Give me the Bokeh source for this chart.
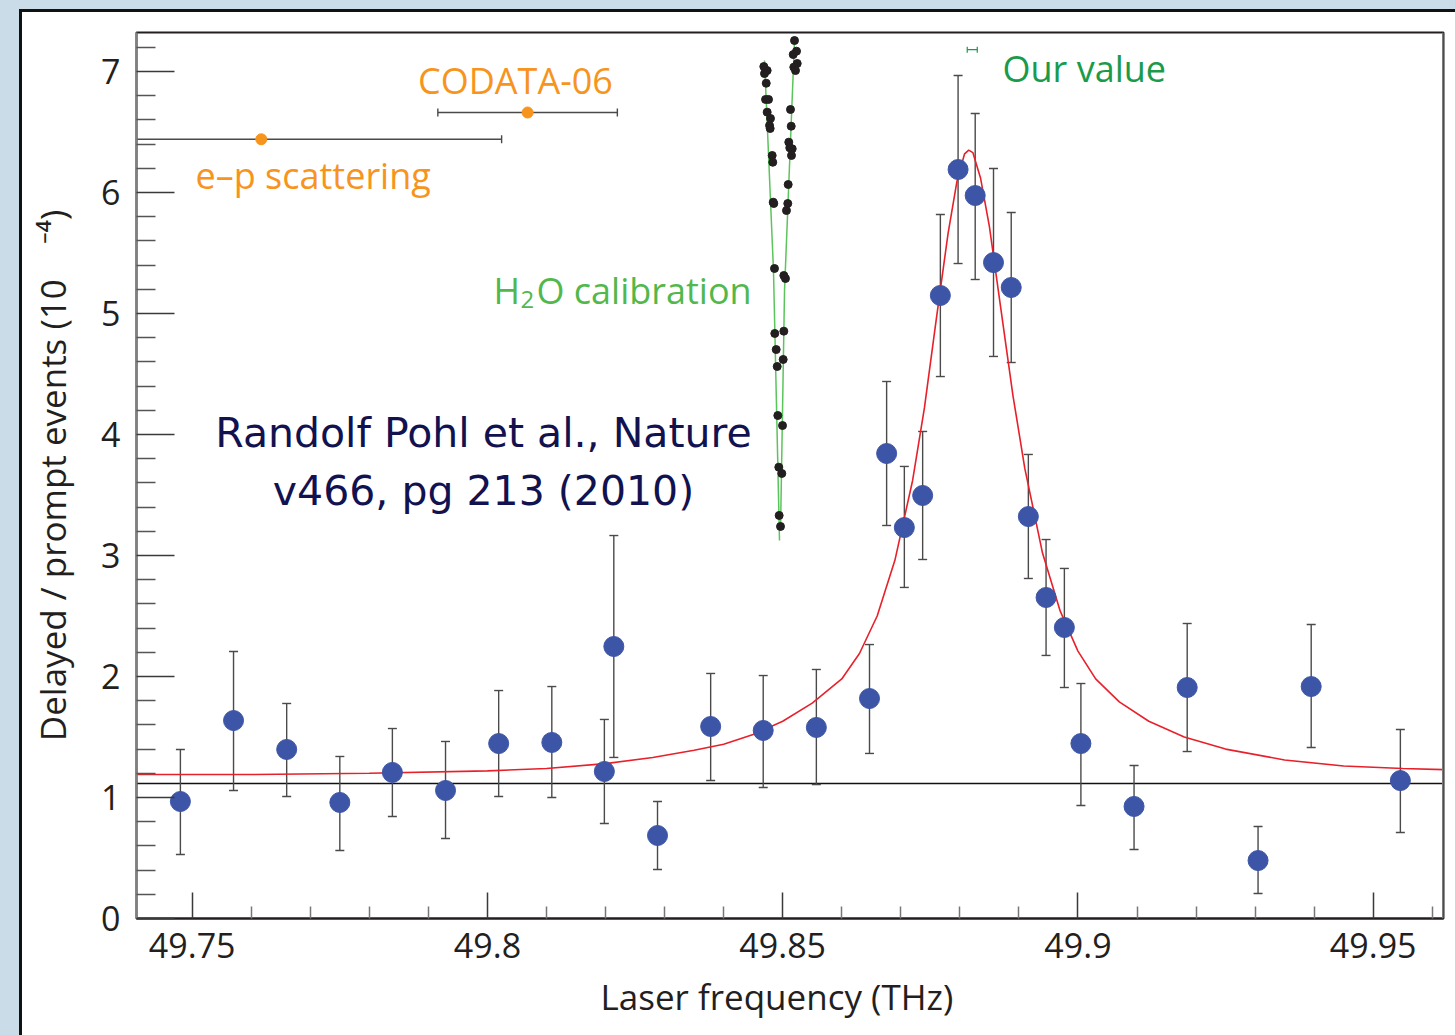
import math
from bokeh.plotting import figure
from bokeh.models import (ColumnDataSource, Whisker, TeeHead, Label, Span, Title,
                          FixedTicker, CustomJSTickFormatter, Range1d)
from bokeh.embed import file_html
from bokeh.resources import INLINE

# ---------------- data ----------------
freq = [49.7480, 49.7570, 49.7660, 49.7750, 49.7839, 49.7929, 49.8019, 49.8109, 49.8198, 49.8214,
        49.8288, 49.8378, 49.8467, 49.8557, 49.8647, 49.8676, 49.8706, 49.8737, 49.8767, 49.8797,
        49.8826, 49.8857, 49.8887, 49.8916, 49.8946, 49.8977, 49.9005, 49.9095, 49.9185, 49.9305,
        49.9395, 49.9546]
ratio = [0.967, 1.636, 1.397, 0.959, 1.207, 1.058, 1.446, 1.455, 1.215, 2.248,
         0.686, 1.587, 1.554, 1.579, 1.818, 3.843, 3.231, 3.496, 5.149, 6.190,
         5.975, 5.421, 5.215, 3.322, 2.653, 2.405, 1.446, 0.926, 1.909, 0.479,
         1.917, 1.140]
ratio_hi = [1.397, 2.207, 1.777, 1.339, 1.570, 1.463, 1.884, 1.917, 1.645, 3.165,
            0.967, 2.025, 2.008, 2.058, 2.264, 4.438, 3.736, 4.025, 5.818, 6.967,
            6.653, 6.198, 5.835, 3.835, 3.132, 2.893, 1.942, 1.264, 2.438, 0.760,
            2.430, 1.562]
ratio_lo = [0.529, 1.058, 1.008, 0.562, 0.843, 0.661, 1.008, 1.000, 0.785, 1.331,
            0.405, 1.140, 1.083, 1.107, 1.364, 3.248, 2.736, 2.967, 4.479, 5.413,
            5.281, 4.645, 4.595, 2.810, 2.174, 1.909, 0.934, 0.570, 1.380, 0.207,
            1.413, 0.711]

# fitted resonance curve
curve_freq = [49.7406, 49.760, 49.780, 49.800, 49.810, 49.820, 49.828, 49.835, 49.840, 49.845,
              49.850, 49.855, 49.860, 49.863, 49.866, 49.869, 49.872, 49.874, 49.876, 49.878,
              49.8795, 49.8808, 49.8815, 49.8822, 49.8835, 49.885, 49.887, 49.889, 49.891, 49.894,
              49.897, 49.900, 49.903, 49.907, 49.912, 49.918, 49.925, 49.935, 49.945, 49.955, 49.9619]
curve_ratio = [1.19, 1.19, 1.20, 1.22, 1.24, 1.28, 1.33, 1.39, 1.44, 1.52,
               1.63, 1.78, 1.98, 2.19, 2.50, 2.96, 3.62, 4.22, 4.95, 5.66,
               6.09, 6.32, 6.35, 6.33, 6.12, 5.72, 5.02, 4.32, 3.72, 3.02,
               2.54, 2.21, 1.98, 1.79, 1.63, 1.50, 1.40, 1.31, 1.26, 1.24, 1.23]

background_level = 1.116

# H2O calibration points
h2o_freq = [49.84680, 49.84737, 49.84692, 49.84721, 49.84709, 49.84760, 49.84737, 49.84793, 49.84777, 49.84788,
            49.84822, 49.84832, 49.84839, 49.84849, 49.84861, 49.84866, 49.84890, 49.84907, 49.84917, 49.84934,
            49.84940, 49.84963,
            49.85200, 49.85234, 49.85178, 49.85246, 49.85188, 49.85217, 49.85132, 49.85144, 49.85103, 49.85120,
            49.85161, 49.85149, 49.85093, 49.85086, 49.85064, 49.85019, 49.85047, 49.85019, 49.85008, 49.84997,
            49.84985]
h2o_y = [7.041, 7.008, 6.983, 6.903, 6.769, 6.769, 6.664, 6.612, 6.554, 6.529,
         6.306, 6.250, 5.920, 5.909, 5.372, 4.835, 4.702, 4.562, 4.157, 3.730,
         3.331, 3.240,
         7.256, 7.168, 7.140, 7.066, 7.036, 7.008, 6.686, 6.548, 6.416, 6.369,
         6.361, 6.306, 6.066, 5.909, 5.851, 5.314, 5.289, 4.854, 4.620, 4.074,
         3.678]
h2o_fit_a_freq = [49.84692, 49.84844, 49.84946]
h2o_fit_a_y = [7.091, 5.355, 3.124]
h2o_fit_b_freq = [49.85200, 49.85031, 49.84963]
h2o_fit_b_y = [7.256, 5.190, 3.207]

# other determinations
codata_f, codata_err, codata_y = 49.8068, 0.0152, 6.661
ep_f, ep_err, ep_y = 49.7617, 0.0407, 6.44
our_f, our_err, our_y = 49.8821, 0.00085, 7.18

x_ticks = [49.75, 49.8, 49.85, 49.9, 49.95]
x_minor = [49.74, 49.76, 49.77, 49.78, 49.79, 49.81, 49.82, 49.83, 49.84, 49.86, 49.87, 49.88,
           49.89, 49.91, 49.92, 49.93, 49.94, 49.96]
y_ticks = [0, 1, 2, 3, 4, 5, 6, 7]
y_minor = [0.2, 0.4, 0.6, 0.8, 1.2, 1.4, 1.6, 1.8, 2.2, 2.4, 2.6, 2.8, 3.2, 3.4, 3.6, 3.8,
           4.2, 4.4, 4.6, 4.8, 5.2, 5.4, 5.6, 5.8, 6.2, 6.4, 6.6, 6.8, 7.2]


# ---------------- layout helpers (page pixel -> data for placement) ----------------
def px2x(px):
    return 49.75 + (px - 191.7) / 5905.0


def py2y(py):
    return (918.0 - py) / 121.0


FONT = "Open Sans"
TXT = "#231f20"
BLUE_BG = "#c9dce8"

x0, x1 = px2x(136), px2x(1443)
p = figure(width=1455, height=1035, output_backend="svg", toolbar_location=None,
           x_range=Range1d(x0, x1), y_range=Range1d(0, py2y(32)),
           min_border_left=136, min_border_right=12, min_border_top=32, min_border_bottom=117,
           border_fill_color=None, background_fill_color="white",
           outline_line_color="#231f20", outline_line_width=2)
# page look: light-blue strips at left/top, black edge lines, white sheet
p.styles = {"background-image":
            f"linear-gradient(to right, {BLUE_BG} 0px 19px, transparent 19px), "
            f"linear-gradient(to bottom, {BLUE_BG} 0px 9px, #111111 9px 12px, transparent 12px), "
            "linear-gradient(to right, #111111 0px 22px, #ffffff 22px)"}
p.xgrid.grid_line_color = None
p.ygrid.grid_line_color = None

fmt = CustomJSTickFormatter(code="return tick.toString();")
xa = p.xaxis[0]
xa.ticker = FixedTicker(ticks=x_ticks, minor_ticks=x_minor)
xa.formatter = fmt
xa.major_tick_in = 26
xa.major_tick_out = 0
xa.minor_tick_in = 12
xa.minor_tick_out = 0
xa.major_tick_line_color = "#3a3a3a"
xa.major_tick_line_width = 1.5
xa.minor_tick_line_color = "#777777"
xa.minor_tick_line_width = 1.5
xa.axis_line_color = TXT
xa.axis_line_width = 2
xa.major_label_text_font = FONT
xa.major_label_text_font_size = "34px"
xa.major_label_text_color = TXT
xa.major_label_standoff = 14

ya = p.yaxis[0]
ya.ticker = FixedTicker(ticks=y_ticks, minor_ticks=y_minor)
ya.formatter = fmt
ya.major_tick_in = 38
ya.major_tick_out = 0
ya.minor_tick_in = 19
ya.minor_tick_out = 0
ya.major_tick_line_color = "#3a3a3a"
ya.major_tick_line_width = 1.5
ya.minor_tick_line_color = "#555555"
ya.minor_tick_line_width = 1.5
ya.axis_line_color = "#808080"
ya.axis_line_width = 2
ya.major_label_text_font = FONT
ya.major_label_text_font_size = "34px"
ya.major_label_text_color = TXT
ya.major_label_standoff = 16
ya.axis_label = "Delayed / prompt events (10\u2002\u2002\u207b\u2074)"
ya.axis_label_text_font = FONT
ya.axis_label_text_font_size = "35px"
ya.axis_label_text_font_style = "normal"
ya.axis_label_text_color = TXT
ya.axis_label_standoff = 22

xtitle = Title(text="Laser frequency (THz)", align="left", offset=464, vertical_align="bottom",
               standoff=20, text_font=FONT, text_font_size="35px", text_font_style="normal",
               text_color=TXT)
p.add_layout(xtitle, "below")

# background level line
p.add_layout(Span(location=background_level, dimension="width", line_color="#111111",
                  line_width=1.5, level="underlay"))

# error bars
src = ColumnDataSource(dict(freq=freq, ratio=ratio, lo=ratio_lo, hi=ratio_hi))
EB = "#4a4a4a"
p.add_layout(Whisker(source=src, base="freq", upper="hi", lower="lo", line_color=EB, line_width=1.4,
                     upper_head=TeeHead(size=9, line_color=EB, line_width=1.4),
                     lower_head=TeeHead(size=9, line_color=EB, line_width=1.4), level="underlay"))

# H2O calibration
p.line(h2o_fit_a_freq, h2o_fit_a_y, line_color="#5cc45c", line_width=1.5)
p.line(h2o_fit_b_freq, h2o_fit_b_y, line_color="#5cc45c", line_width=1.5)
p.scatter(h2o_freq, h2o_y, marker="circle", size=8, fill_color="#231f20", line_color="#231f20")

# fit curve
p.line(curve_freq, curve_ratio, line_color="#e8202a", line_width=1.6)

# data points
p.scatter("freq", "ratio", source=src, marker="circle", size=20,
          fill_color="#3d55a6", line_color="#3d55a6")

# CODATA / e-p / our value
cod_src = ColumnDataSource(dict(y=[codata_y], lo=[codata_f - codata_err], hi=[codata_f + codata_err]))
p.add_layout(Whisker(source=cod_src, base="y", lower="lo", upper="hi", dimension="width",
                     line_color=EB, line_width=1.4,
                     upper_head=TeeHead(size=8, line_color=EB, line_width=1.4),
                     lower_head=TeeHead(size=8, line_color=EB, line_width=1.4)))
ep_src = ColumnDataSource(dict(y=[ep_y], lo=[max(ep_f - ep_err, x0)], hi=[ep_f + ep_err]))
p.add_layout(Whisker(source=ep_src, base="y", lower="lo", upper="hi", dimension="width",
                     line_color=EB, line_width=1.4,
                     upper_head=TeeHead(size=8, line_color=EB, line_width=1.4),
                     lower_head=None))
our_src = ColumnDataSource(dict(y=[our_y], lo=[our_f - our_err], hi=[our_f + our_err]))
p.add_layout(Whisker(source=our_src, base="y", lower="lo", upper="hi", dimension="width",
                     line_color="#1a9b4b", line_width=1.2,
                     upper_head=TeeHead(size=6, line_color="#1a9b4b", line_width=1.2),
                     lower_head=TeeHead(size=6, line_color="#1a9b4b", line_width=1.2)))
p.scatter([codata_f, ep_f], [codata_y, ep_y], marker="circle", size=11,
          fill_color="#f7941d", line_color="#f7941d")

# right frame edge (grey)
p.add_layout(Span(location=x1, dimension="height", line_color="#7a7a7a", line_width=3))

SHIFT = 14


def lab(px, py, text, size, color, align="left", font=FONT):
    p.add_layout(Label(x=px2x(px), y=py2y(py - SHIFT), text=text, text_font=font, text_font_size=size,
                       text_color=color, text_align=align, text_baseline="alphabetic"))


ORANGE = "#f7941d"
lab(515, 94, "CODATA-06", "36px", ORANGE, align="center")
lab(195, 189, "e\u2013p scattering", "36px", ORANGE)
GREEN = "#52b84c"
lab(493, 304, "H", "36px", GREEN)
lab(520, 313, "2", "24px", GREEN)
lab(536, 304, "O calibration", "36px", GREEN)
lab(1002, 82, "Our value", "36px", "#1a9b4b")
NAVY = "#121250"
lab(483, 446, "Randolf Pohl et al., Nature", "41px", NAVY, align="center", font="DejaVu Sans")
lab(483, 504, "v466, pg 213 (2010)", "41px", NAVY, align="center", font="DejaVu Sans")

open("out.html", "w").write(file_html(p, INLINE))
